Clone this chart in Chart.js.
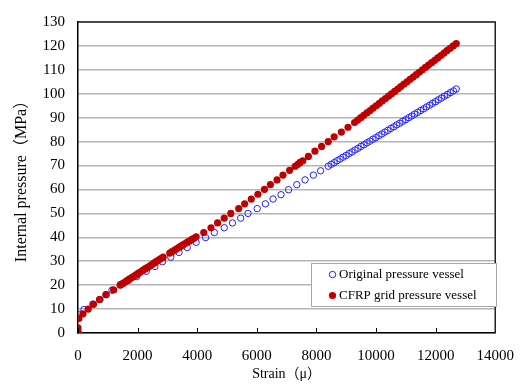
<!DOCTYPE html>
<html>
<head>
<meta charset="utf-8">
<script src="https://cdn.jsdelivr.net/npm/chart.js@4.4.1/dist/chart.umd.min.js"></script>
<style>
html,body{margin:0;padding:0;background:#fff;}
#wrap{width:528px;height:384px;}
</style>
</head>
<body>
<div id="wrap"><canvas id="c" width="528" height="384"></canvas></div>
<script>
// ---- Data ----
const seriesNames = ["Original pressure vessel", "CFRP grid pressure vessel"];

const originalStrain = [0, 60, 200, 498, 740, 940, 1140, 1418, 1690, 1970, 2290, 2580, 2834, 3113, 3389, 3665, 3963, 4280, 4575, 4907, 5183, 5458, 5704, 6013, 6289, 6545, 6811, 7066, 7342, 7618, 7897, 8140,
  8395, 8495, 8595, 8695, 8795, 8895, 8995, 9095, 9195, 9295, 9395, 9495, 9595, 9695, 9795, 9895, 9995, 10095, 10195, 10295, 10395, 10495, 10595, 10695, 10795, 10895, 10995, 11095, 11195, 11295, 11395, 11495, 11595, 11695, 11795, 11895, 11995, 12095, 12195, 12295, 12395, 12495, 12595, 12691];
const originalPressure = [0, 7.8, 9.8, 12.1, 14.0, 16.0, 17.9, 20.2, 21.9, 23.6, 25.8, 27.8, 29.8, 31.7, 33.7, 35.7, 37.9, 39.9, 42.0, 44.0, 46.0, 48.0, 50.0, 52.0, 54.0, 56.0, 57.8, 59.9, 62.0, 64.0, 66.0, 67.8,
  69.7, 70.5, 71.2, 72.0, 72.7, 73.5, 74.2, 75.0, 75.7, 76.5, 77.2, 78.0, 78.7, 79.5, 80.2, 81.0, 81.7, 82.5, 83.2, 84.0, 84.7, 85.5, 86.2, 87.0, 87.7, 88.5, 89.2, 90.0, 90.7, 91.5, 92.2, 93.0, 93.7, 94.5, 95.2, 96.0, 96.7, 97.5, 98.2, 99.0, 99.7, 100.5, 101.2, 102.0];

const cfrpStrain = [0, 0, 30, 166, 343, 520, 720, 940, 1195, 1418,
  1480, 1540, 1600, 1660, 1720, 1780, 1840, 1900, 1960, 2020, 2080, 2140, 2200, 2260, 2320, 2380, 2440, 2500, 2560, 2620, 2680, 2740, 2800, 2857,
  3080, 3155, 3230, 3300, 3375, 3450, 3520, 3595, 3670, 3745, 3820, 3890, 3963,
  4220, 4462, 4684, 4905, 5126, 5392, 5591, 5814, 6036, 6256, 6455, 6678, 6877, 7100, 7286, 7375, 7452, 7542, 7731, 7950, 8173, 8396, 8595, 8837, 9060,
  9280, 9385, 9490, 9590, 9695, 9800, 9900, 10005, 10110, 10210, 10315, 10420, 10520, 10625, 10730, 10830, 10935, 11040, 11140, 11245, 11350, 11450, 11555, 11660, 11760, 11865, 11970, 12070, 12175, 12280, 12380, 12485, 12590, 12691];
const cfrpPressure = [0.8, 2.2, 6.1, 8.0, 10.0, 12.0, 14.0, 16.0, 18.0, 20.0,
  20.5, 21.0, 21.5, 22.0, 22.5, 23.0, 23.4, 23.9, 24.4, 24.9, 25.4, 25.9, 26.4, 26.9, 27.3, 27.8, 28.3, 28.8, 29.3, 29.8, 30.3, 30.8, 31.2, 31.7,
  33.4, 34.0, 34.6, 35.1, 35.7, 36.3, 36.8, 37.4, 38.0, 38.5, 39.1, 39.6, 40.2,
  42, 44, 46, 48, 50, 52, 54, 56, 58, 60, 62, 64, 66, 68, 69.7, 70.5, 71.3, 72.0, 73.8, 76, 78, 80, 82, 84, 86,
  88, 89, 90, 91, 92, 93, 94, 95, 96, 97, 98, 99, 100, 101, 102, 103, 104, 105, 106, 107, 108, 109, 110, 111, 112, 113, 114, 115, 116, 117, 118, 119, 120, 121];

const xTickLabels = ["0", "2000", "4000", "6000", "8000", "10000", "12000", "14000"];
const yTickLabels = ["0", "10", "20", "30", "40", "50", "60", "70", "80", "90", "100", "110", "120", "130"];
const xTitle = "Strain（μ）";
const yTitle = "Internal pressure（MPa）";

// ---- Build chart ----
const toPts = (xs, ys) => xs.map((x, i) => ({x: x, y: ys[i]}));
const SERIF = "'Liberation Serif', 'Times New Roman', 'Noto Sans CJK JP', serif";
const BLUE = '#2020ff';
const RED = '#c00000';

const framePlugin = {
  id: 'frame',
  afterDraw(chart) {
    const ctx = chart.ctx;
    const a = chart.chartArea;
    const xs = chart.scales.x;
    ctx.save();
    // inward tick marks on the x axis
    ctx.strokeStyle = '#000';
    ctx.lineWidth = 1;
    xs.ticks.forEach(t => {
      const px = Math.round(xs.getPixelForValue(t.value)) + 0.5;
      ctx.beginPath();
      ctx.moveTo(px, a.bottom);
      ctx.lineTo(px, a.bottom - 5);
      ctx.stroke();
    });
    // top and right border
    ctx.lineWidth = 1.5;
    ctx.strokeStyle = '#222';
    ctx.beginPath();
    ctx.moveTo(a.left, a.top);
    ctx.lineTo(a.right, a.top);
    ctx.lineTo(a.right, a.bottom);
    ctx.stroke();
    // legend box
    const lx = 311, ly = 263, lw = 185, lh = 43;
    ctx.fillStyle = '#fff';
    ctx.fillRect(lx, ly, lw, lh);
    ctx.strokeStyle = '#a6a6a6';
    ctx.lineWidth = 1;
    ctx.strokeRect(lx + 0.5, ly + 0.5, lw, lh);
    // markers
    ctx.beginPath();
    ctx.arc(332.5, 274.5, 3.2, 0, Math.PI * 2);
    ctx.strokeStyle = BLUE;
    ctx.lineWidth = 1;
    ctx.stroke();
    ctx.beginPath();
    ctx.arc(332.5, 295.5, 3.6, 0, Math.PI * 2);
    ctx.fillStyle = RED;
    ctx.fill();
    // texts
    ctx.fillStyle = '#000';
    ctx.font = "13px " + SERIF;
    ctx.textBaseline = 'middle';
    ctx.textAlign = 'left';
    ctx.fillText(seriesNames[0], 339, 275);
    ctx.fillText(seriesNames[1], 339, 296);
    ctx.restore();
  }
};

new Chart(document.getElementById('c'), {
  type: 'scatter',
  data: {
    datasets: [
      {
        label: seriesNames[0],
        data: toPts(originalStrain, originalPressure),
        pointStyle: 'circle',
        pointRadius: 3.2,
        pointBorderWidth: 1,
        pointBorderColor: BLUE,
        pointBackgroundColor: 'rgba(0,0,0,0)',
        showLine: false,
        order: 1
      },
      {
        label: seriesNames[1],
        data: toPts(cfrpStrain, cfrpPressure),
        pointStyle: 'circle',
        pointRadius: 3.6,
        pointBorderWidth: 0,
        pointBorderColor: RED,
        pointBackgroundColor: RED,
        showLine: false,
        order: 0
      }
    ]
  },
  options: {
    responsive: false,
    animation: false,
    devicePixelRatio: 1,
    layout: { padding: { top: 14, right: 27, left: 0, bottom: 0 } },
    plugins: {
      legend: { display: false },
      tooltip: { enabled: false }
    },
    scales: {
      x: {
        type: 'linear',
        min: 0, max: 14000,
        afterFit(s) { s.height = 51; },
        afterBuildTicks(s) { s.ticks = xTickLabels.map(v => ({ value: Number(v) })); },
        ticks: {
          stepSize: 2000,
          autoSkip: false,
          maxRotation: 0,
          padding: 14,
          color: '#000',
          font: { family: SERIF, size: 15 },
          callback: (v, i) => xTickLabels[i]
        },
        grid: { display: true, drawOnChartArea: false, drawTicks: false },
        border: { display: true, color: '#000', width: 1.5 },
        title: {
          display: true, text: xTitle, color: '#000',
          font: { family: SERIF, size: 14 },
          padding: { top: 0, bottom: 1 }
        }
      },
      y: {
        type: 'linear',
        min: 0, max: 130,
        afterFit(s) { s.width = 78; },
        afterBuildTicks(s) { s.ticks = yTickLabels.map(v => ({ value: Number(v) })); },
        ticks: {
          stepSize: 10,
          autoSkip: false,
          padding: 13,
          color: '#000',
          font: { family: SERIF, size: 15 },
          callback: (v, i) => yTickLabels[i]
        },
        grid: { color: '#b4b4b4', lineWidth: 1.5, drawTicks: false },
        border: { display: true, color: '#000', width: 1.5 },
        title: {
          display: true, text: yTitle, color: '#000',
          font: { family: SERIF, size: 16 },
          padding: { top: 12, bottom: 0 }
        }
      }
    }
  },
  plugins: [framePlugin]
});
</script>
</body>
</html>
